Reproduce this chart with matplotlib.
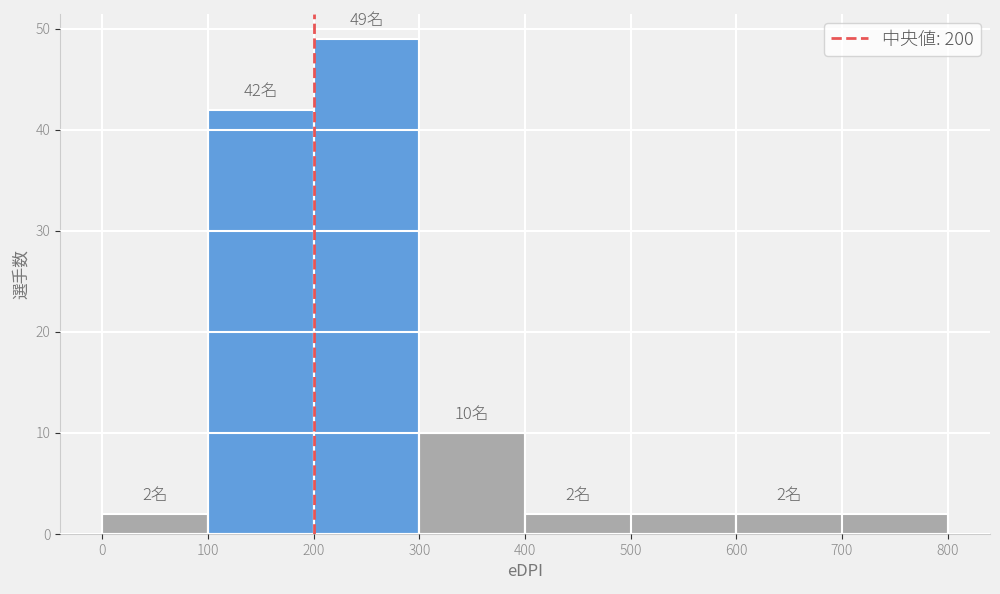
import numpy as np
import matplotlib.pyplot as plt

plt.rcParams['font.family'] = ['Noto Sans CJK JP', 'DejaVu Sans']
plt.rcParams['font.weight'] = 'light'

# ヒストグラムのビンと人数
bin_edges = [0, 100, 200, 300, 400, 600, 800]
counts = [2, 42, 49, 10, 2, 2]
median = 200

blue = '#619ede'
gray = '#aaaaaa'

fig, ax = plt.subplots(figsize=(10, 5.94), dpi=100)
fig.patch.set_facecolor('#f0f0f0')
ax.set_facecolor('#f0f0f0')

lefts = np.array(bin_edges[:-1])
widths = np.diff(bin_edges)
colors = [blue if 100 <= l < 300 else gray for l in lefts]
ax.bar(lefts, counts, width=widths, align='edge', color=colors,
       edgecolor='white', linewidth=1.5)

for l, c in zip(lefts, counts):
    ax.text(l + 50, c + 1, f'{c}名', ha='center', va='bottom',
            fontsize=12, color='#666666')

ax.axvline(median, color='#e85555', linestyle='--', linewidth=2,
           label=f'中央値: {median}', zorder=3)

ax.grid(True, color='white', linewidth=1.5)
ax.set_axisbelow(False)
ax.set_xticks(range(0, 801, 100))
ax.set_xlabel('eDPI', fontsize=12, color='#777777')
ax.set_ylabel('選手数', fontsize=12, color='#777777')
ax.tick_params(colors='#333333', labelcolor='#888888', labelsize=10)
for s in ['top', 'right']:
    ax.spines[s].set_visible(False)
for s in ['left', 'bottom']:
    ax.spines[s].set_color('#cccccc')

leg = ax.legend(loc='upper right', fontsize=13, facecolor='white',
                edgecolor='#cccccc', labelcolor='#555555')

plt.subplots_adjust(left=0.06, right=0.99, top=0.976, bottom=0.101)
plt.savefig('out.png')
